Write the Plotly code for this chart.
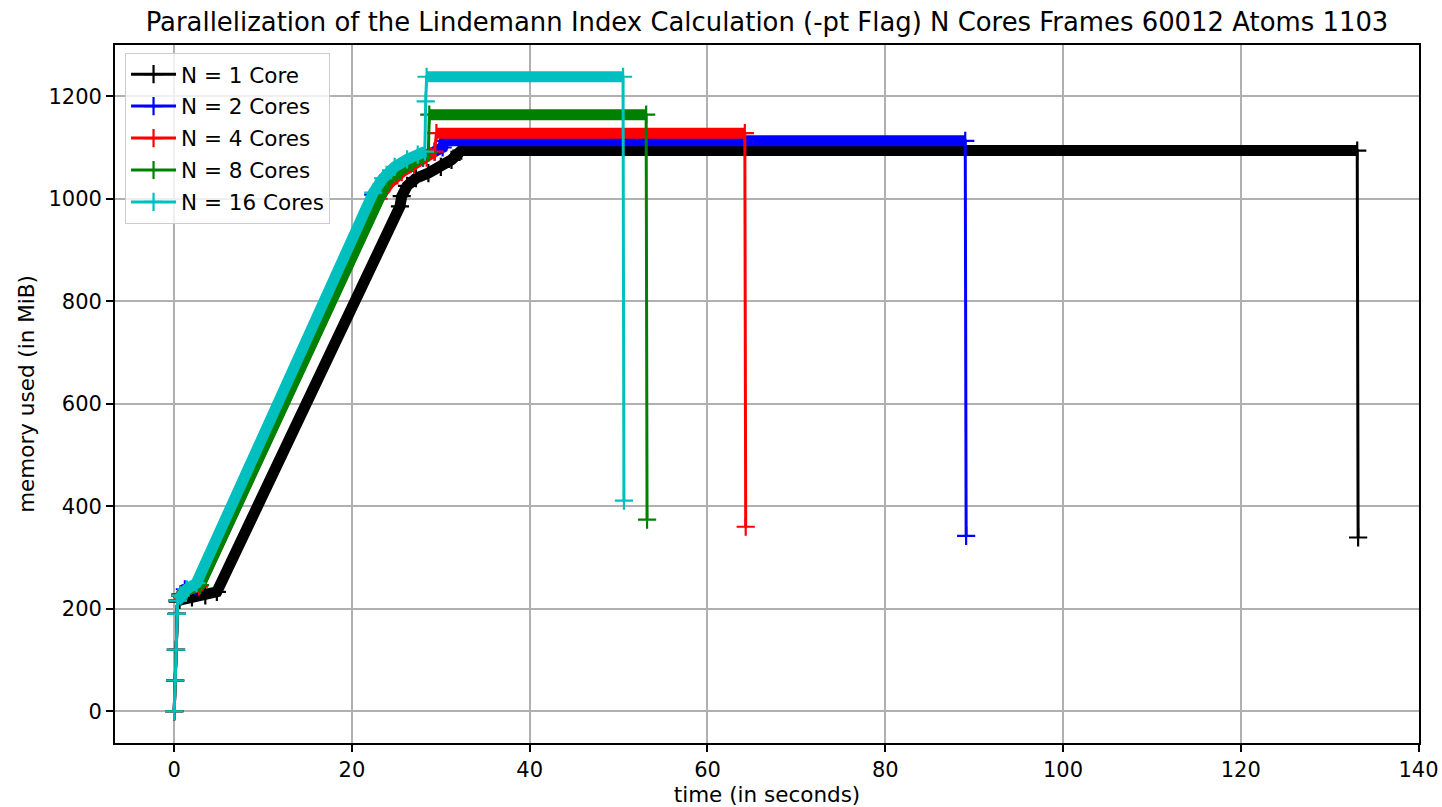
import plotly.graph_objects as go

# ---- data (time in s, memory in MiB) ----
labels = ["N = 1 Core", "N = 2 Cores", "N = 4 Cores", "N = 8 Cores", "N = 16 Cores"]
colors = ["#000000", "#0000ff", "#ff0000", "#008000", "#00bfbf"]

t_1 = [0, 0.1, 0.2, 0.3, 0.4, 0.6, 2.0, 3.5, 4.8, 25.4, 25.6, 26.2, 27.2, 28.6, 30.0, 31.2, 32.3, 133.1, 133.2]
m_1 = [0, 60, 120, 190, 214, 217, 222, 226, 233, 985, 1005, 1025, 1040, 1050, 1062, 1076, 1094, 1094, 339]

t_2 = [0, 0.1, 0.2, 0.3, 0.4, 0.7, 1.2, 2.4, 22.4, 23.6, 25.0, 26.6, 28.0, 29.3, 30.2, 30.4, 89.0, 89.1]
m_2 = [0, 60, 120, 190, 216, 228, 238, 244, 1008, 1035, 1055, 1068, 1080, 1092, 1100, 1113, 1113, 342]

t_4 = [0, 0.1, 0.2, 0.3, 0.4, 0.7, 1.4, 2.8, 23.0, 24.2, 25.6, 27.0, 28.4, 29.3, 29.5, 64.2, 64.3]
m_4 = [0, 60, 120, 190, 216, 226, 236, 243, 1000, 1030, 1052, 1066, 1080, 1092, 1128, 1128, 360]

t_8 = [0, 0.1, 0.2, 0.3, 0.4, 0.7, 1.4, 2.9, 22.9, 24.0, 25.4, 26.8, 28.0, 28.6, 28.7, 53.1, 53.2]
m_8 = [0, 60, 120, 190, 216, 225, 236, 246, 1005, 1035, 1055, 1070, 1082, 1090, 1164, 1164, 374]

t_16 = [0, 0.1, 0.2, 0.3, 0.4, 0.7, 1.4, 2.5, 22.4, 23.5, 24.8, 26.2, 27.4, 28.2, 28.3, 28.4, 50.5, 50.6]
m_16 = [0, 60, 120, 190, 216, 226, 238, 250, 1012, 1040, 1062, 1077, 1086, 1092, 1190, 1238, 1238, 411]

# index ranges of densely sampled stretches (drawn as a thick band of '+' markers)
dense_1 = [(4, 17)]
dense_2 = [(4, 16)]
dense_4 = [(4, 13), (14, 15)]
dense_8 = [(4, 13), (14, 15)]
dense_16 = [(4, 13), (15, 16)]

series = [(t_1, m_1, dense_1), (t_2, m_2, dense_2), (t_4, m_4, dense_4),
          (t_8, m_8, dense_8), (t_16, m_16, dense_16)]

x_ticks = [0, 20, 40, 60, 80, 100, 120, 140]
y_ticks = [0, 200, 400, 600, 800, 1000, 1200]

FONT = "DejaVu Sans"
fig = go.Figure()

for (t, m, dense), name, col in zip(series, labels, colors):
    bx, by = [], []
    for a, b in dense:
        bx += t[a:b + 1] + [None]
        by += m[a:b + 1] + [None]
    fig.add_trace(go.Scatter(x=bx, y=by, mode="lines", line=dict(color=col, width=11),
                             legendgroup=name, showlegend=False, hoverinfo="skip",
                             connectgaps=False))
    fig.add_trace(go.Scatter(x=t, y=m, mode="lines+markers", name=name, legendgroup=name,
                             line=dict(color=col, width=3),
                             marker=dict(symbol="cross-thin", size=13,
                                         line=dict(color=col, width=2.2))))

axis_common = dict(showline=True, mirror=True, linecolor="black", linewidth=1.7,
                   ticks="outside", ticklen=7, tickwidth=1.7, tickcolor="black",
                   showgrid=True, gridcolor="#b0b0b0", gridwidth=1.7, zeroline=False,
                   automargin=False,
                   tickfont=dict(family=FONT, size=21, color="black"))

fig.update_layout(
    width=1442, height=807,
    margin=dict(l=115, r=23, t=45, b=64),
    paper_bgcolor="white", plot_bgcolor="white",
    font=dict(family=FONT, color="black"),
    title=dict(text="Parallelization of the Lindemann Index Calculation (-pt Flag) N Cores Frames 60012 Atoms 1103",
               font=dict(family=FONT, size=25.9, color="black"),
               x=0.5, xref="paper", xanchor="center", y=1 - 22 / 807, yanchor="middle"),
    xaxis=dict(range=[-6.66, 140.05], tickvals=x_ticks,
               title=dict(text="time (in seconds)", font=dict(family=FONT, size=21.5), standoff=7),
               **axis_common),
    yaxis=dict(range=[-62, 1300], tickvals=y_ticks,
               title=dict(text="memory used (in MiB)", font=dict(family=FONT, size=21.5), standoff=8),
               **axis_common),
    legend=dict(x=0.0077, y=0.989, xanchor="left", yanchor="top",
                bgcolor="rgba(255,255,255,0.8)", bordercolor="#cccccc", borderwidth=1,
                font=dict(family=FONT, size=21.5, color="black"),
                traceorder="grouped", tracegroupgap=1, itemwidth=45),
    showlegend=True,
)

fig.write_html("out.html", config={"displayModeBar": False},
               post_script="document.body.style.margin='0';")
